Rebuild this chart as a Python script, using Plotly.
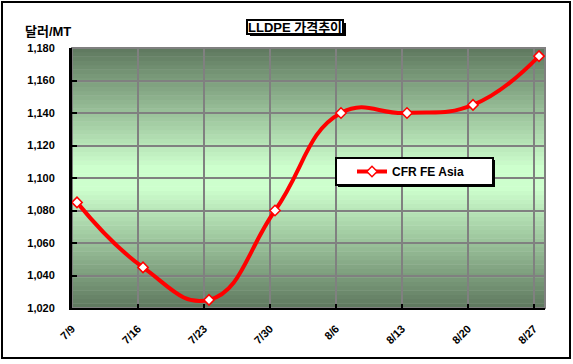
import plotly.graph_objects as go

# ---- data ----
dates = ["7/9", "7/16", "7/23", "7/30", "8/6", "8/13", "8/20", "8/27"]
cfr_fe_asia = [1085, 1045, 1025, 1080, 1140, 1140, 1145, 1175]
series_name = "CFR FE Asia"
title_text = "LLDPE 가격추이"
y_title = "달러/MT"
y_min, y_max, y_step = 1020, 1180, 20

W, H = 573, 364
L, R, T, B = 72, 545, 48, 308  # plot area in px


def px(x):
    return (x - L) / (R - L)


def py(y):
    return (B - y) / (B - T)


FONT = "Arial, 'Liberation Sans', 'Noto Sans CJK KR', sans-serif"
idx = list(range(len(dates)))
off = 5 / 66.0  # Excel offset of points vs category lines

fig = go.Figure()
fig.add_trace(go.Scatter(
    x=idx, y=cfr_fe_asia, name="<b>" + series_name + "</b>", mode="lines+markers",
    line=dict(color="#ff0000", width=4, shape="spline", smoothing=1.3),
    marker=dict(symbol="diamond", size=8, color="white",
                line=dict(color="#ff0000", width=1.5)),
))

shapes = []
# gradient background (dark edges, light centre)
dark = (94, 120, 94)
light = (205, 255, 205)
N = 60
for i in range(N):
    y0 = i / N
    y1 = (i + 1) / N
    t = abs((y0 + y1) / 2 - 0.5) / 0.5
    t = min(1.0, max(0.0, (t - 0.08) / 0.92))
    c = tuple(round(light[k] + (dark[k] - light[k]) * t) for k in range(3))
    shapes.append(dict(type="rect", xref="paper", yref="paper", x0=0, x1=1,
                       y0=y0, y1=y1 + 0.002, line=dict(width=0),
                       fillcolor="rgb(%d,%d,%d)" % c, layer="below"))
# plot border (gray top/right)
shapes.append(dict(type="rect", xref="paper", yref="paper", x0=0, x1=1, y0=0, y1=1,
                   line=dict(color="#808080", width=2), layer="below"))
# outer chart border
shapes.append(dict(type="rect", xref="paper", yref="paper",
                   x0=px(2), x1=px(570), y0=py(358), y1=py(2),
                   line=dict(color="black", width=2)))
# title box with shadow
shapes.append(dict(type="rect", xref="paper", yref="paper",
                   x0=px(250), x1=px(346), y0=py(36), y1=py(23),
                   fillcolor="black", line=dict(width=0)))
shapes.append(dict(type="rect", xref="paper", yref="paper",
                   x0=px(247), x1=px(343), y0=py(34), y1=py(20),
                   fillcolor="white", line=dict(color="black", width=2)))
# legend box with shadow
shapes.append(dict(type="rect", xref="paper", yref="paper",
                   x0=px(338), x1=px(495), y0=py(187), y1=py(160),
                   fillcolor="black", line=dict(width=0)))
shapes.append(dict(type="rect", xref="paper", yref="paper",
                   x0=px(336), x1=px(493), y0=py(185), y1=py(158),
                   fillcolor="white", line=dict(color="black", width=2)))

annotations = [
    dict(text="<b>" + title_text + "</b>", xref="paper", yref="paper", x=px(295), y=py(27),
         xanchor="center", yanchor="middle", showarrow=False,
         font=dict(family=FONT, size=13, color="black")),
    dict(text="<b>" + y_title + "</b>", xref="paper", yref="paper", x=px(48), y=py(31),
         xanchor="center", yanchor="middle", showarrow=False,
         font=dict(family=FONT, size=13, color="black")),
]

fig.update_layout(
    width=W, height=H,
    margin=dict(l=L, r=W - R, t=T, b=H - B, pad=0),
    paper_bgcolor="white", plot_bgcolor="rgba(0,0,0,0)",
    shapes=shapes, annotations=annotations,
    showlegend=True,
    legend=dict(x=px(352), y=py(171.5), xanchor="left", yanchor="middle",
                bgcolor="rgba(0,0,0,0)", borderwidth=0, itemwidth=30,
                font=dict(family=FONT, size=12, color="black")),
    font=dict(family=FONT),
)
fig.update_xaxes(
    range=[-off, (R - L) / 66.0 - off],
    tickmode="array", tickvals=[i - off for i in idx],
    ticktext=["<b>%s</b>" % d for d in dates],
    tickangle=-45, tickfont=dict(family=FONT, size=11, color="black"),
    showgrid=True, gridcolor="#808080", gridwidth=2,
    showline=True, linecolor="black", linewidth=2,
    ticks="inside", ticklen=4, tickwidth=2, tickcolor="black",
    zeroline=False, fixedrange=True, ticklabelstandoff=8,
)
fig.update_yaxes(
    range=[y_min, y_max], dtick=y_step, tick0=y_min,
    tickformat=",d", tickprefix="<b>", ticksuffix="</b>",
    tickfont=dict(family=FONT, size=11, color="black"),
    showgrid=True, gridcolor="#808080", gridwidth=2,
    showline=True, linecolor="black", linewidth=3,
    ticks="inside", ticklen=5, tickwidth=2, tickcolor="black",
    zeroline=False, fixedrange=True, ticklabelstandoff=12,
)

fig.write_html("out.html", config={"displayModeBar": False},
               post_script="document.body.style.margin='0';document.body.style.overflow='hidden';")
